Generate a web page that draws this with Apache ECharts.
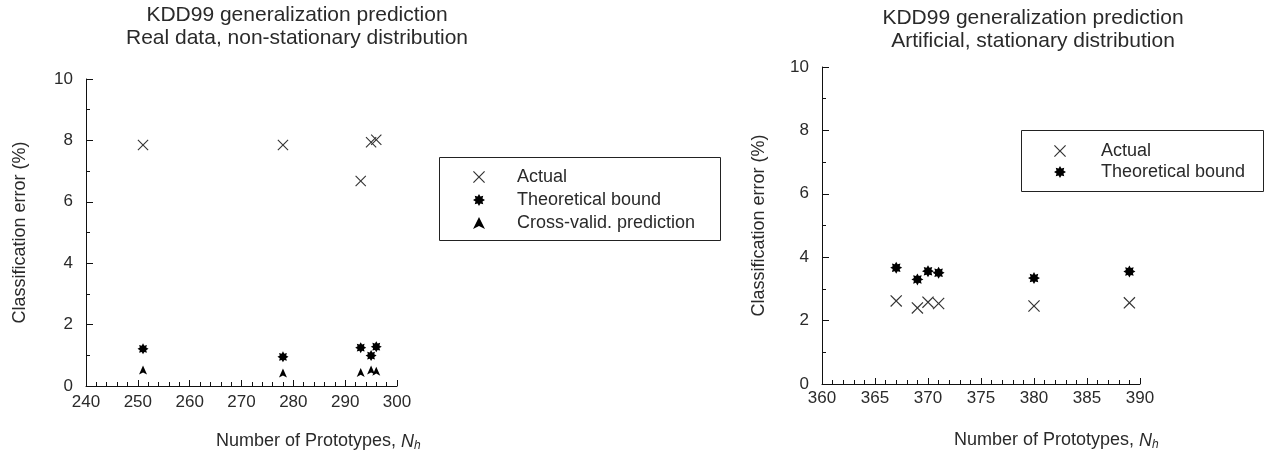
<!DOCTYPE html>
<html>
<head>
<meta charset="utf-8">
<script src="https://cdn.jsdelivr.net/npm/echarts@6/dist/echarts.min.js"></script>
<style>html,body{margin:0;padding:0;background:#fff;}#c{width:1265px;height:458px;}</style>
</head>
<body>
<div id="c"></div>
<script>
// ---- Data ----
var leftX = [251, 278, 293, 295, 296];
var leftActual = [7.85, 7.85, 6.68, 7.94, 8.02];
var leftBound = [1.21, 0.95, 1.25, 0.99, 1.28];
var leftCV = [0.52, 0.42, 0.44, 0.52, 0.48];

var rightX = [367, 369, 370, 371, 380, 389];
var rightActual = [2.62, 2.40, 2.58, 2.54, 2.46, 2.56];
var rightBound = [3.67, 3.30, 3.56, 3.51, 3.34, 3.55];

var leftTitle = ['KDD99 generalization prediction', 'Real data, non-stationary distribution'];
var rightTitle = ['KDD99 generalization prediction', 'Artificial, stationary distribution'];
var seriesNames = ['Actual', 'Theoretical bound', 'Cross-valid. prediction'];
var yName = 'Classification error (%)';

// ---- Symbols ----
var X_PATH = 'path://M0,0.7L0.7,0L5,4.3L9.3,0L10,0.7L5.7,5L10,9.3L9.3,10L5,5.7L0.7,10L0,9.3L4.3,5Z';
var STAR_PATH = 'path://M10,5L7.9,6.2L8.54,8.54L6.2,7.9L5,10L3.8,7.9L1.46,8.54L2.1,6.2L0,5L2.1,3.8L1.46,1.46L3.8,2.1L5,0L6.2,2.1L8.54,1.46L7.9,3.8Z';
var TRI_PATH = 'path://M5,0L10,10L5,7.6L0,10Z';

function pairs(xs, ys) { return xs.map(function (x, i) { return [x, ys[i]]; }); }

var FONT = "'Liberation Sans', Arial, sans-serif";
var TXT = '#2a2a2a';

function yAxis(gridIndex, gap) {
  return {
    type: 'value', gridIndex: gridIndex, min: 0, max: 10, interval: 2,
    name: yName, nameLocation: 'middle', nameGap: gap,
    nameTextStyle: { fontFamily: FONT, fontSize: 18, color: TXT },
    axisLine: { show: true, lineStyle: { color: '#111', width: 1 } },
    axisTick: { show: true, inside: true, length: 7, lineStyle: { color: '#111' } },
    minorTick: { show: true, splitNumber: 2, length: 4, lineStyle: { color: '#111' } },
    axisLabel: { margin: 13, fontFamily: FONT, fontSize: 17, color: TXT },
    splitLine: { show: false }
  };
}
function xAxis(gridIndex, min, max, interval, margin) {
  return {
    type: 'value', gridIndex: gridIndex, min: min, max: max, interval: interval,
    axisLine: { show: true, onZero: false, lineStyle: { color: '#111', width: 1 } },
    axisTick: { show: true, inside: true, length: 6, lineStyle: { color: '#111' } },
    minorTick: { show: true, splitNumber: 5, length: 4, lineStyle: { color: '#111' } },
    axisLabel: { margin: margin, fontFamily: FONT, fontSize: 17, color: TXT },
    splitLine: { show: false }
  };
}

var richName = {
  a: { fontFamily: FONT, fontSize: 18, fontWeight: 'normal', color: TXT },
  i: { fontFamily: FONT, fontSize: 18, fontWeight: 'normal', color: TXT, fontStyle: 'italic' },
  s: { fontFamily: FONT, fontSize: 12, fontWeight: 'normal', color: TXT, fontStyle: 'italic', verticalAlign: 'bottom', padding: [9, 0, 0, 0] }
};
var xNameText = '{a|Number of Prototypes, }{i|N}{s|h}';

var chart = echarts.init(document.getElementById('c'), null, { renderer: 'canvas' });
chart.setOption({
  animation: false,
  backgroundColor: '#fff',
  title: [
    { text: leftTitle.join('\n'), left: 292, top: -1, textAlign: 'center',
      textStyle: { fontFamily: FONT, fontSize: 21, fontWeight: 'normal', color: TXT, lineHeight: 23 } },
    { text: rightTitle.join('\n'), left: 1028, top: 2, textAlign: 'center',
      textStyle: { fontFamily: FONT, fontSize: 21, fontWeight: 'normal', color: TXT, lineHeight: 23 } },
    { text: xNameText, left: 211, top: 426, textStyle: { rich: richName } },
    { text: xNameText, left: 949, top: 425, textStyle: { rich: richName } }
  ],
  grid: [
    { left: 86, top: 79, width: 311, height: 307 },
    { left: 822, top: 67, width: 318, height: 317 }
  ],
  xAxis: [xAxis(0, 240, 300, 10, 8), xAxis(1, 360, 390, 5, 6)],
  yAxis: [yAxis(0, 57), yAxis(1, 54)],
  legend: [
    { orient: 'vertical', left: 473, top: 167, padding: 0, itemGap: 3, itemWidth: 12, itemHeight: 12,
      selectedMode: false,
      textStyle: { fontFamily: FONT, fontSize: 18, color: TXT, lineHeight: 20, padding: [0, 0, 0, 27] },
      data: [
        { name: seriesNames[0], icon: X_PATH, itemStyle: { color: '#333' } },
        { name: seriesNames[1], icon: STAR_PATH, itemStyle: { color: '#000' } },
        { name: seriesNames[2], icon: TRI_PATH, itemStyle: { color: '#000' } }
      ] },
    { orient: 'vertical', left: 1054, top: 141, padding: 0, itemGap: 1, itemWidth: 12, itemHeight: 12,
      selectedMode: false,
      textStyle: { fontFamily: FONT, fontSize: 18, color: TXT, lineHeight: 20, padding: [0, 0, 0, 30] },
      data: [
        { name: seriesNames[0], icon: X_PATH, itemStyle: { color: '#333' } },
        { name: seriesNames[1], icon: STAR_PATH, itemStyle: { color: '#000' } }
      ] }
  ],
  graphic: [
    { type: 'rect', shape: { x: 439.5, y: 157.5, width: 281, height: 83 },
      style: { fill: 'none', stroke: '#222', lineWidth: 1 }, silent: true },
    { type: 'rect', shape: { x: 1021.5, y: 130.5, width: 242, height: 61 },
      style: { fill: 'none', stroke: '#222', lineWidth: 1 }, silent: true }
  ],
  series: [
    { name: seriesNames[0], type: 'scatter', xAxisIndex: 0, yAxisIndex: 0, symbol: X_PATH, symbolSize: 11,
      itemStyle: { color: '#333', opacity: 1 }, data: pairs(leftX, leftActual) },
    { name: seriesNames[1], type: 'scatter', xAxisIndex: 0, yAxisIndex: 0, symbol: STAR_PATH, symbolSize: 11,
      itemStyle: { color: '#000', opacity: 1 }, data: pairs(leftX, leftBound) },
    { name: seriesNames[2], type: 'scatter', xAxisIndex: 0, yAxisIndex: 0, symbol: TRI_PATH, symbolSize: [8, 9],
      itemStyle: { color: '#000', opacity: 1 }, data: pairs(leftX, leftCV) },
    { name: seriesNames[0], type: 'scatter', xAxisIndex: 1, yAxisIndex: 1, symbol: X_PATH, symbolSize: 12,
      itemStyle: { color: '#333', opacity: 1 }, data: pairs(rightX, rightActual) },
    { name: seriesNames[1], type: 'scatter', xAxisIndex: 1, yAxisIndex: 1, symbol: STAR_PATH, symbolSize: 12,
      itemStyle: { color: '#000', opacity: 1 }, data: pairs(rightX, rightBound) }
  ]
});
</script>
</body>
</html>
